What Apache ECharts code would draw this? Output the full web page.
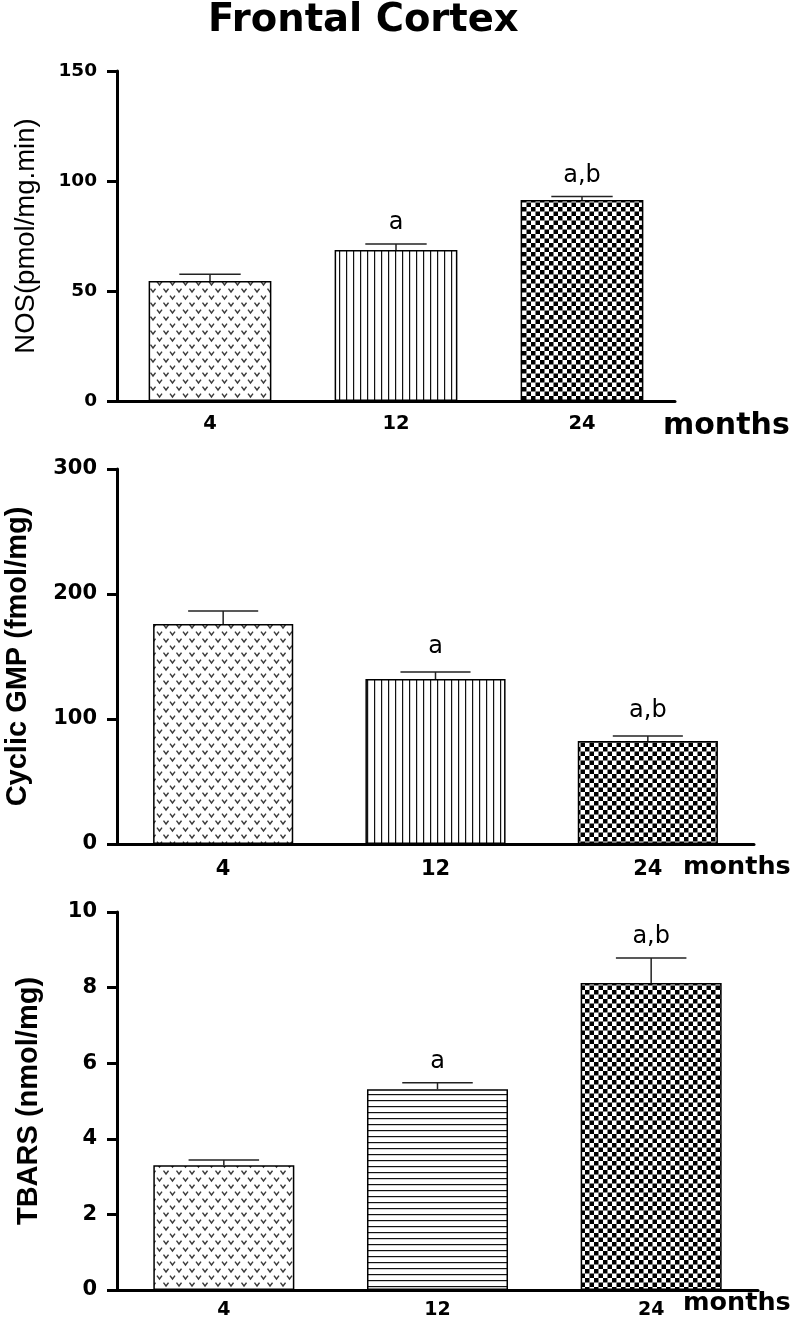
<!DOCTYPE html>
<html>
<head>
<meta charset="utf-8">
<script src="https://cdn.jsdelivr.net/npm/echarts@6/dist/echarts.min.js"></script>
<style>
html,body{margin:0;padding:0;background:#fff;}
#chart{width:796px;height:1324px;}
</style>
</head>
<body>
<div id="chart"></div>
<script>
// ---------- data ----------
const categories = ['4', '12', '24'];
const xAxisName = 'months';
const chartTitle = 'Frontal Cortex';

const nosName = 'NOS(pmol/mg.min)';
const nosMean = [54.5, 68.6, 91.4];
const nosSem = [3.1, 2.8, 1.5];
const nosMarks = ['', 'a', 'a,b'];
const nosTicks = [0, 50, 100, 150];

const cgmpName = 'Cyclic GMP (fmol/mg)';
const cgmpMean = [176, 132, 82.4];
const cgmpSem = [10.4, 5.6, 4.0];
const cgmpMarks = ['', 'a', 'a,b'];
const cgmpTicks = [0, 100, 200, 300];

const tbarsName = 'TBARS (nmol/mg)';
const tbarsMean = [3.3, 5.31, 8.12];
const tbarsSem = [0.14, 0.17, 0.66];
const tbarsMarks = ['', 'a', 'a,b'];
const tbarsTicks = [0, 2, 4, 6, 8, 10];

// ---------- patterns ----------
function makeCanvas(w, h, draw) {
  const c = document.createElement('canvas');
  c.width = w; c.height = h;
  const ctx = c.getContext('2d');
  ctx.fillStyle = '#fff';
  ctx.fillRect(0, 0, w, h);
  draw(ctx);
  return c;
}
const vPattern = makeCanvas(13, 14, ctx => {
  ctx.strokeStyle = '#3a3a3a';
  ctx.lineWidth = 1.4;
  [[3.5, 3.5], [10, 10.5]].forEach(([cx, cy]) => {
    ctx.beginPath();
    ctx.moveTo(cx - 2.5, cy - 1.8);
    ctx.lineTo(cx, cy + 1.5);
    ctx.lineTo(cx + 2.5, cy - 1.8);
    ctx.stroke();
  });
});
const vertPattern = makeCanvas(7, 10, ctx => {
  ctx.fillStyle = '#111';
  ctx.fillRect(3, 0, 1.2, 10);
});
const horizPattern = makeCanvas(10, 6, ctx => {
  ctx.fillStyle = '#111';
  ctx.fillRect(0, 2, 10, 1.2);
});
const checkPattern = makeCanvas(9, 9, ctx => {
  ctx.fillStyle = '#000';
  ctx.fillRect(0, 0, 4.5, 4.5);
  ctx.fillRect(4.5, 4.5, 4.5, 4.5);
});
const pat = img => ({ image: img, repeat: 'repeat' });

// ---------- helpers ----------
const BOLD = '"DejaVu Sans", sans-serif';
const ARIAL = '"Liberation Sans", Arial, sans-serif';

function yAxisDef(idx, name, ticks, labelSize, nameSize, nameWeight, nameGap, nameFont) {
  return {
    gridIndex: idx, type: 'value',
    min: ticks[0], max: ticks[ticks.length - 1], interval: ticks[1] - ticks[0],
    name: name, nameLocation: 'middle', nameRotate: 90, nameGap: nameGap,
    nameTextStyle: { fontFamily: nameFont, fontSize: nameSize, fontWeight: nameWeight, color: '#000' },
    axisLine: { show: true, lineStyle: { color: '#000', width: 3 } },
    axisTick: { show: true, inside: false, length: 10, lineStyle: { color: '#000', width: 3 } },
    axisLabel: { color: '#000', fontFamily: BOLD, fontWeight: 'bold', fontSize: labelSize, margin: 20 },
    splitLine: { show: false }
  };
}
function xAxisDef(idx, labelSize, labelMargin, nameSize, nameGap, namePad) {
  return {
    gridIndex: idx, type: 'category', data: categories,
    name: xAxisName, nameLocation: 'end', nameGap: nameGap,
    nameTextStyle: { fontFamily: BOLD, fontWeight: 'bold', fontSize: nameSize, color: '#000',
      align: 'left', verticalAlign: 'top', padding: [namePad, 0, 0, 0] },
    axisLine: { show: true, onZero: false, lineStyle: { color: '#000', width: 3 } },
    axisTick: { show: false },
    axisLabel: { color: '#000', fontFamily: BOLD, fontWeight: 'bold', fontSize: labelSize, margin: labelMargin },
    splitLine: { show: false }
  };
}
function barSeries(idx, means, patterns) {
  return {
    type: 'bar', xAxisIndex: idx, yAxisIndex: idx, barWidth: '66%',
    data: means.map((v, i) => ({ value: v, itemStyle: { color: pat(patterns[i]) } })),
    itemStyle: { borderColor: '#000', borderWidth: 1.5 },
    silent: true
  };
}
function errSeries(idx, means, sems, marks, textGap) {
  return {
    type: 'custom', xAxisIndex: idx, yAxisIndex: idx, z: 5, silent: true,
    data: means.map((m, i) => [i, m, m + sems[i]]),
    renderItem: function (params, api) {
      const base = api.coord([api.value(0), api.value(1)]);
      const top = api.coord([api.value(0), api.value(2)]);
      const band = api.size([1, 0])[0];
      const half = band * 0.165;
      const st = { stroke: '#222', lineWidth: 1.5 };
      return {
        type: 'group',
        children: [
          { type: 'line', shape: { x1: base[0], y1: base[1], x2: top[0], y2: top[1] }, style: st },
          { type: 'line', shape: { x1: top[0] - half, y1: top[1], x2: top[0] + half, y2: top[1] }, style: st },
          { type: 'text', x: top[0], y: top[1] - textGap,
            style: { text: marks[params.dataIndex], fill: '#000', fontFamily: '"DejaVu Sans", sans-serif',
              fontSize: 24, align: 'center', verticalAlign: 'bottom',
              textAlign: 'center', textVerticalAlign: 'bottom' } }
        ]
      };
    }
  };
}

const gridBase = { containLabel: false, outerBoundsMode: 'none' };
const option = {
  backgroundColor: '#fff',
  animation: false,
  title: {
    text: chartTitle, left: 203, top: -4,
    textStyle: { fontFamily: BOLD, fontWeight: 'bold', fontSize: 38.5, color: '#000' }
  },
  grid: [
    Object.assign({ left: 117, top: 71, width: 558, height: 330 }, gridBase),
    Object.assign({ left: 117, top: 469, width: 637, height: 375 }, gridBase),
    Object.assign({ left: 117, top: 912, width: 641, height: 378 }, gridBase)
  ],
  xAxis: [
    xAxisDef(0, 19.5, 13, 30, -12, 10),
    xAxisDef(1, 21, 15, 25.5, -71, 10),
    xAxisDef(2, 19, 11, 25.5, -75, 0)
  ],
  yAxis: [
    yAxisDef(0, nosName, nosTicks, 18.5, 27.5, 'normal', 77, ARIAL),
    yAxisDef(1, cgmpName, cgmpTicks, 21, 29, 'bold', 85, ARIAL),
    yAxisDef(2, tbarsName, tbarsTicks, 21, 29, 'bold', 74, ARIAL)
  ],
  series: [
    barSeries(0, nosMean, [vPattern, vertPattern, checkPattern]),
    errSeries(0, nosMean, nosSem, nosMarks, 9),
    barSeries(1, cgmpMean, [vPattern, vertPattern, checkPattern]),
    errSeries(1, cgmpMean, cgmpSem, cgmpMarks, 13),
    barSeries(2, tbarsMean, [vPattern, horizPattern, checkPattern]),
    errSeries(2, tbarsMean, tbarsSem, tbarsMarks, 9)
  ]
};

const chart = echarts.init(document.getElementById('chart'), null, { renderer: 'canvas' });
chart.setOption(option);
</script>
</body>
</html>
